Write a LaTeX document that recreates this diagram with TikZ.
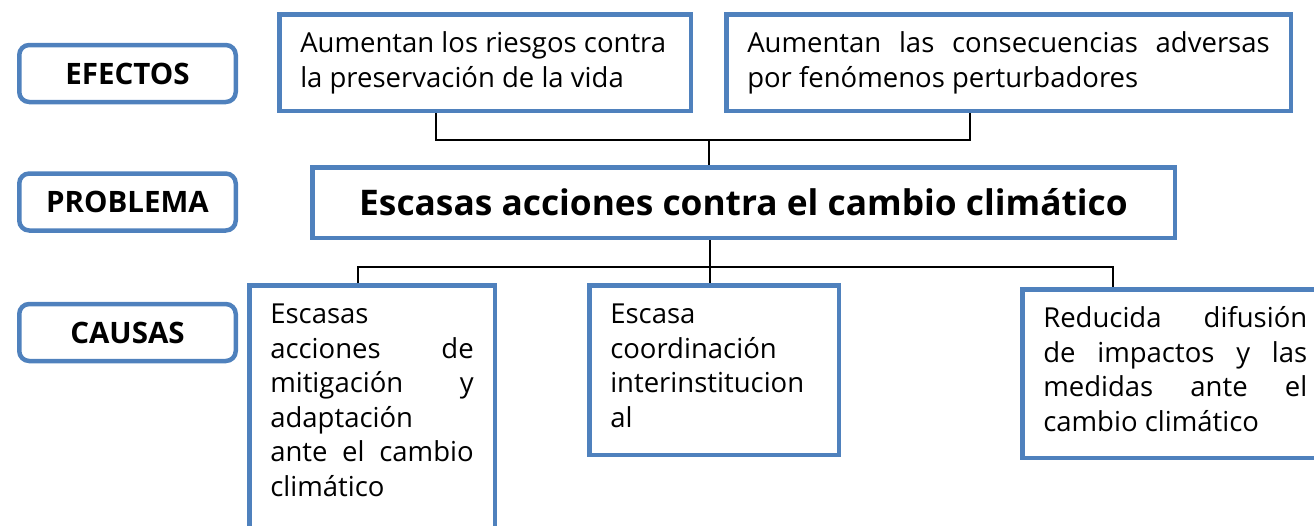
\documentclass[tikz,border=0pt]{standalone}
\usepackage{fontspec}
\setmainfont{Open Sans}
\usetikzlibrary{positioning}
\definecolor{azul}{HTML}{4F81BD}
\newcommand{\bloque}[3]{\parbox[c][#2][t]{#1}{\strut#3}}

\begin{document}
\begin{tikzpicture}[x=1pt, y=-1pt, font=\fontsize{27.5}{34.5}\selectfont,
      caja/.style={draw=azul, line width=4.5pt, outer sep=2.25pt, anchor=north west,
                   inner xsep=21pt, inner ysep=14.5pt},
      rot/.style={draw=azul, line width=4.5pt, outer sep=2.25pt, rounded corners=10pt,
                  minimum width=216.5pt, minimum height=57pt, inner sep=0pt,
                  font=\fontsize{29.5}{34}\selectfont\bfseries},
      con/.style={line width=1.5pt}]
    \useasboundingbox (0,0) rectangle (1314,525);

    \node[rot] (lef) at (127.5,73.5) {EFECTOS};
    \node[rot, below=67pt of lef] (lpr) {PROBLEMA};
    \node[rot, below=69pt of lpr] (lca) {CAUSAS};

    \node[caja] (ef1) at (277,12) {\bloque{369.5pt}{67.5pt}{Aumentan los riesgos contra\\ la preservación de la vida}};
    \node[caja, right=31pt of ef1] (ef2) {\bloque{522.5pt}{67.5pt}{Aumentan\hfill las\hfill consecuencias\hfill adversas\\ por fenómenos perturbadores}};

    \node[draw=azul, line width=4.5pt, outer sep=2.25pt, minimum width=862.5pt, minimum height=70.5pt,
          font=\fontsize{35.3}{40}\selectfont\bfseries] (prob) at (743.5,202.5) {Escasas acciones contra el cambio climático};

    \node[caja] (ca1) at (247,283) {\bloque{203.5pt}{258pt}{Escasas\\ acciones\hfill de\\ mitigación\hfill y\\ adaptación\\ ante\hfill el\hfill cambio\\ climático}};
    \node[caja] (ca2) at (587,283) {\bloque{207.5pt}{140.5pt}{Escasa\\ coordinación\\ interinstitucion\\ al}};
    \node[caja] (ca3) at (1020,287) {\bloque{264pt}{139.5pt}{Reducida\hfill difusión\\ de\hfill impactos\hfill y\hfill las\\ medidas\hfill ante\hfill el\\ cambio climático}};

    \coordinate (je) at (709,140);
    \coordinate (b1) at (436,140);
    \coordinate (b2) at (970,140);
    \coordinate (jc) at (710,267);
    \coordinate (b3) at (358,267);
    \coordinate (b4) at (1113,267);

    \draw[con] (b1 |- ef1.south) -- (b1) -- (b2) -- (b2 |- ef2.south);
    \draw[con] (je) -- (je |- prob.north);
    \draw[con] (jc |- prob.south) -- (jc |- ca2.north);
    \draw[con] (b3 |- ca1.north) -- (b3) -- (b4) -- (b4 |- ca3.north);
  \end{tikzpicture}
\end{document}
